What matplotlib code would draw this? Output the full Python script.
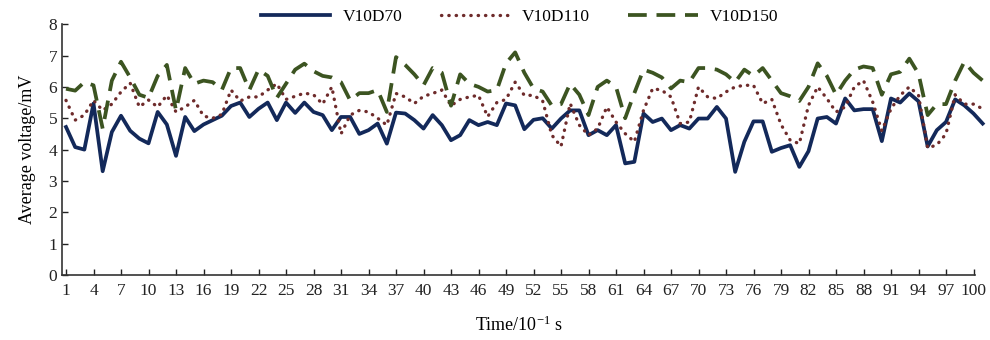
import matplotlib.pyplot as plt
import numpy as np

# valeurs (101 points)
v10d70 = [4.72, 4.08, 4.00, 5.47, 3.31, 4.56, 5.08, 4.60, 4.35, 4.20,
          5.20, 4.80, 3.80, 5.04, 4.59, 4.80, 4.94, 5.08, 5.39, 5.50,
          5.04, 5.30, 5.50, 4.94, 5.50, 5.17, 5.50, 5.20, 5.10, 4.62,
          5.04, 5.04, 4.50, 4.62, 4.83, 4.19, 5.18, 5.15, 4.94, 4.67,
          5.10, 4.78, 4.30, 4.46, 4.94, 4.78, 4.88, 4.78, 5.47, 5.41,
          4.65, 4.95, 5.00, 4.67, 4.99, 5.25, 5.25, 4.46, 4.62, 4.46,
          4.78, 3.56, 3.61, 5.15, 4.88, 4.99, 4.62, 4.78, 4.67, 4.99,
          4.99, 5.36, 4.99, 3.29, 4.25, 4.90, 4.90, 3.93, 4.05, 4.14,
          3.45, 3.95, 4.99, 5.04, 4.83, 5.63, 5.25, 5.29, 5.29, 4.27,
          5.63, 5.50, 5.79, 5.54, 4.10, 4.62, 4.88, 5.60, 5.41, 5.15,
          4.83]
v10d110 = [5.57, 4.94, 5.10, 5.57, 5.25, 5.45, 5.84, 6.12, 5.36, 5.58,
           5.36, 5.73, 5.20, 5.36, 5.57, 5.07, 5.00, 5.12, 5.90, 5.55,
           5.68, 5.68, 5.90, 6.10, 5.60, 5.70, 5.80, 5.75, 5.45, 6.00,
           4.50, 5.10, 5.25, 5.20, 5.00, 4.78, 5.79, 5.68, 5.47, 5.70,
           5.79, 5.90, 5.40, 5.60, 5.68, 5.73, 5.05, 5.50, 5.60, 6.15,
           5.73, 5.73, 5.55, 4.46, 4.10, 5.47, 4.78, 4.46, 4.67, 5.36,
           4.88, 4.51, 4.25, 5.25, 5.95, 5.89, 5.68, 4.83, 4.88, 6.00,
           5.68, 5.63, 5.84, 6.00, 6.05, 6.05, 5.47, 5.60, 4.80, 4.30,
           4.19, 5.41, 6.00, 5.63, 5.20, 5.36, 6.00, 6.20, 5.52, 4.60,
           5.30, 5.73, 6.00, 5.73, 4.05, 4.15, 4.50, 5.75, 5.45, 5.45,
           5.30]
v10d150 = [5.94, 5.88, 6.15, 6.05, 4.67, 6.20, 6.80, 6.30, 5.75, 5.65,
           6.35, 6.70, 5.25, 6.60, 6.10, 6.20, 6.15, 5.90, 6.60, 6.60,
           5.90, 6.55, 6.35, 5.65, 6.10, 6.55, 6.74, 6.50, 6.35, 6.30,
           6.15, 5.57, 5.80, 5.80, 5.90, 5.20, 6.95, 6.70, 6.40, 6.05,
           6.60, 6.45, 5.40, 6.40, 6.10, 6.00, 5.85, 5.90, 6.75, 7.10,
           6.45, 5.95, 5.85, 5.40, 5.45, 6.10, 5.75, 5.10, 6.00, 6.20,
           6.00, 5.00, 5.80, 6.55, 6.45, 6.30, 5.95, 6.20, 6.15, 6.60,
           6.60, 6.55, 6.40, 6.15, 6.55, 6.35, 6.60, 6.20, 5.80, 5.70,
           5.55, 6.00, 6.75, 6.35, 5.75, 6.20, 6.55, 6.65, 6.60, 5.75,
           6.40, 6.48, 6.90, 6.42, 5.10, 5.45, 5.45, 6.20, 6.80, 6.45,
           6.20]
temps = np.arange(1, len(v10d70) + 1)
xticks = list(range(1, 101, 3))

plt.rcParams['font.family'] = 'Liberation Serif'
plt.rcParams['mathtext.fontset'] = 'custom'
plt.rcParams['mathtext.rm'] = 'Liberation Serif'
plt.rcParams['mathtext.it'] = 'Liberation Serif:italic'

fig = plt.figure(figsize=(9.9, 3.4), dpi=100)
ax = fig.add_axes([0.0626, 0.191, 0.9224, 0.738])

ax.plot(temps, v10d70, '-', color='#13295a', lw=2.7, label='V10D70', clip_on=False)
ax.plot(temps, v10d110, color='#6e2b2b', lw=2.4, linestyle=(0, (0.1, 2.1)),
        dash_capstyle='round', label='V10D110', clip_on=False)
ax.plot(temps, v10d150, color='#3c5421', lw=2.7, dashes=(5, 2.6),
        label='V10D150', clip_on=False)

ax.set_xlim(0.56, 100.18)
ax.set_ylim(0, 8)
ax.set_xticks(xticks)
ax.set_yticks(range(0, 9))
ax.tick_params(direction='in', length=4, width=1, labelsize=12.5, colors='#222222')
ax.tick_params(axis='x', pad=6)
for s in ['top', 'right']:
    ax.spines[s].set_visible(False)
for s in ['left', 'bottom']:
    ax.spines[s].set_color('#333333')
    ax.spines[s].set_linewidth(1.2)

ax.set_ylabel('Average voltage/mV', fontsize=13, labelpad=9)
ax.set_xlabel(r'Time/10$^{-1}$ s', fontsize=13, labelpad=12)

fig.legend(loc='center', bbox_to_anchor=(0.525, 0.95), ncol=3, frameon=False,
           fontsize=12.5, handlelength=4.0, columnspacing=2.2, handletextpad=0.7)

fig.savefig('out.png', dpi=100)
